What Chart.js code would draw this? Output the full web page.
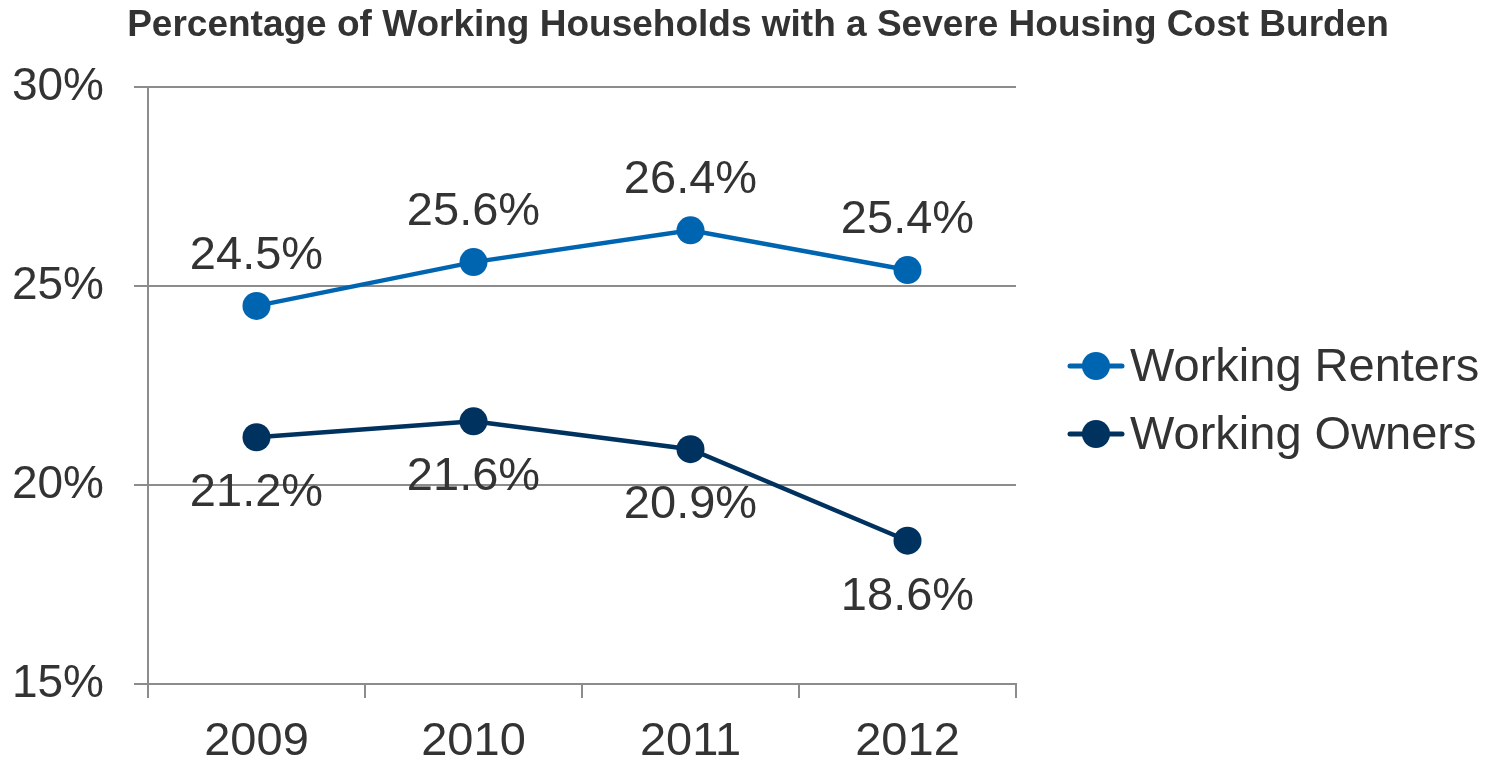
<!DOCTYPE html>
<html>
<head>
<meta charset="utf-8">
<script src="https://cdn.jsdelivr.net/npm/chart.js@4.4.1/dist/chart.umd.min.js"></script>
<style>
    html, body { margin: 0; padding: 0; background: #fff; }
    #wrap { width: 1495px; height: 760px; }
</style>
</head>
<body>
<div id="wrap"><canvas id="lineChart"></canvas></div>
<script>
const years = ["2009", "2010", "2011", "2012"];
const renters = [24.5, 25.6, 26.4, 25.4];
const owners = [21.2, 21.6, 20.9, 18.6];
const seriesNames = ["Working Renters", "Working Owners"];
const yTicks = [15, 20, 25, 30];
const chartTitle = "Percentage of Working Households with a Severe Housing Cost Burden";

const FONT = "'Liberation Sans', Arial, Helvetica, sans-serif";
const TEXT = "#333333";
const GRID = "#8c8c8c";
const BLUE = "#0065b0";
const NAVY = "#00325f";

// labels above the renters line, below the owners line
const labelOffsets = [-50, 56];

const extras = {
    id: "extras",
    afterDatasetsDraw(chart) {
        const ctx = chart.ctx;
        ctx.save();
        ctx.font = "47px " + FONT;
        ctx.fillStyle = TEXT;
        ctx.textAlign = "center";
        ctx.textBaseline = "middle";
        chart.data.datasets.forEach((ds, d) => {
            chart.getDatasetMeta(d).data.forEach((pt, i) => {
                ctx.fillText(ds.data[i].toFixed(1) + "%", pt.x, pt.y + labelOffsets[d]);
            });
        });
        ctx.restore();
    },
    afterDraw(chart) {
        const ctx = chart.ctx;
        ctx.save();

        // title
        ctx.font = "bold 37px " + FONT;
        ctx.fillStyle = TEXT;
        ctx.textAlign = "center";
        ctx.textBaseline = "middle";
        ctx.fillText(chartTitle, 758, 26);

        // legend
        ctx.font = "47px " + FONT;
        ctx.textAlign = "left";
        chart.data.datasets.forEach((ds, d) => {
            const y = 366 + d * 68;
            ctx.strokeStyle = ds.borderColor;
            ctx.lineWidth = 5;
            ctx.lineCap = "round";
            ctx.beginPath();
            ctx.moveTo(1070, y);
            ctx.lineTo(1122, y);
            ctx.stroke();
            ctx.fillStyle = ds.borderColor;
            ctx.beginPath();
            ctx.arc(1096, y, 14, 0, Math.PI * 2);
            ctx.fill();
            ctx.fillStyle = TEXT;
            ctx.fillText(ds.label, 1130, y + 2);
        });
        ctx.restore();
    }
};

new Chart(document.getElementById("lineChart"), {
    type: "line",
    data: {
        labels: years,
        datasets: [
            {
                label: seriesNames[0],
                data: renters,
                borderColor: BLUE,
                backgroundColor: BLUE,
                borderWidth: 4.5,
                pointRadius: 14,
                pointBorderWidth: 0,
                pointBackgroundColor: BLUE,
                tension: 0
            },
            {
                label: seriesNames[1],
                data: owners,
                borderColor: NAVY,
                backgroundColor: NAVY,
                borderWidth: 4.5,
                pointRadius: 14,
                pointBorderWidth: 0,
                pointBackgroundColor: NAVY,
                tension: 0
            }
        ]
    },
    options: {
        responsive: true,
        maintainAspectRatio: false,
        animation: false,
        layout: {
            padding: { top: 87, right: 479, left: 0, bottom: 0 }
        },
        plugins: {
            legend: { display: false },
            title: { display: false },
            tooltip: { enabled: false }
        },
        scales: {
            x: {
                offset: true,
                afterFit(scale) { scale.height = 76; },
                grid: {
                    offset: true,
                    drawOnChartArea: false,
                    drawTicks: true,
                    tickLength: 14,
                    color: GRID,
                    lineWidth: 2
                },
                border: { color: GRID, width: 2 },
                ticks: {
                    color: TEXT,
                    padding: 16,
                    font: { family: FONT, size: 47 }
                }
            },
            y: {
                min: 15,
                max: 30,
                afterFit(scale) { scale.width = 148; },
                afterBuildTicks(scale) {
                    scale.ticks = yTicks.map(v => ({ value: v }));
                },
                grid: {
                    color: GRID,
                    lineWidth: 2,
                    drawTicks: true,
                    tickLength: 14
                },
                border: { color: GRID, width: 2 },
                ticks: {
                    color: TEXT,
                    padding: 30,
                    font: { family: FONT, size: 46 },
                    callback: v => v + "%"
                }
            }
        }
    },
    plugins: [extras]
});
</script>
</body>
</html>
